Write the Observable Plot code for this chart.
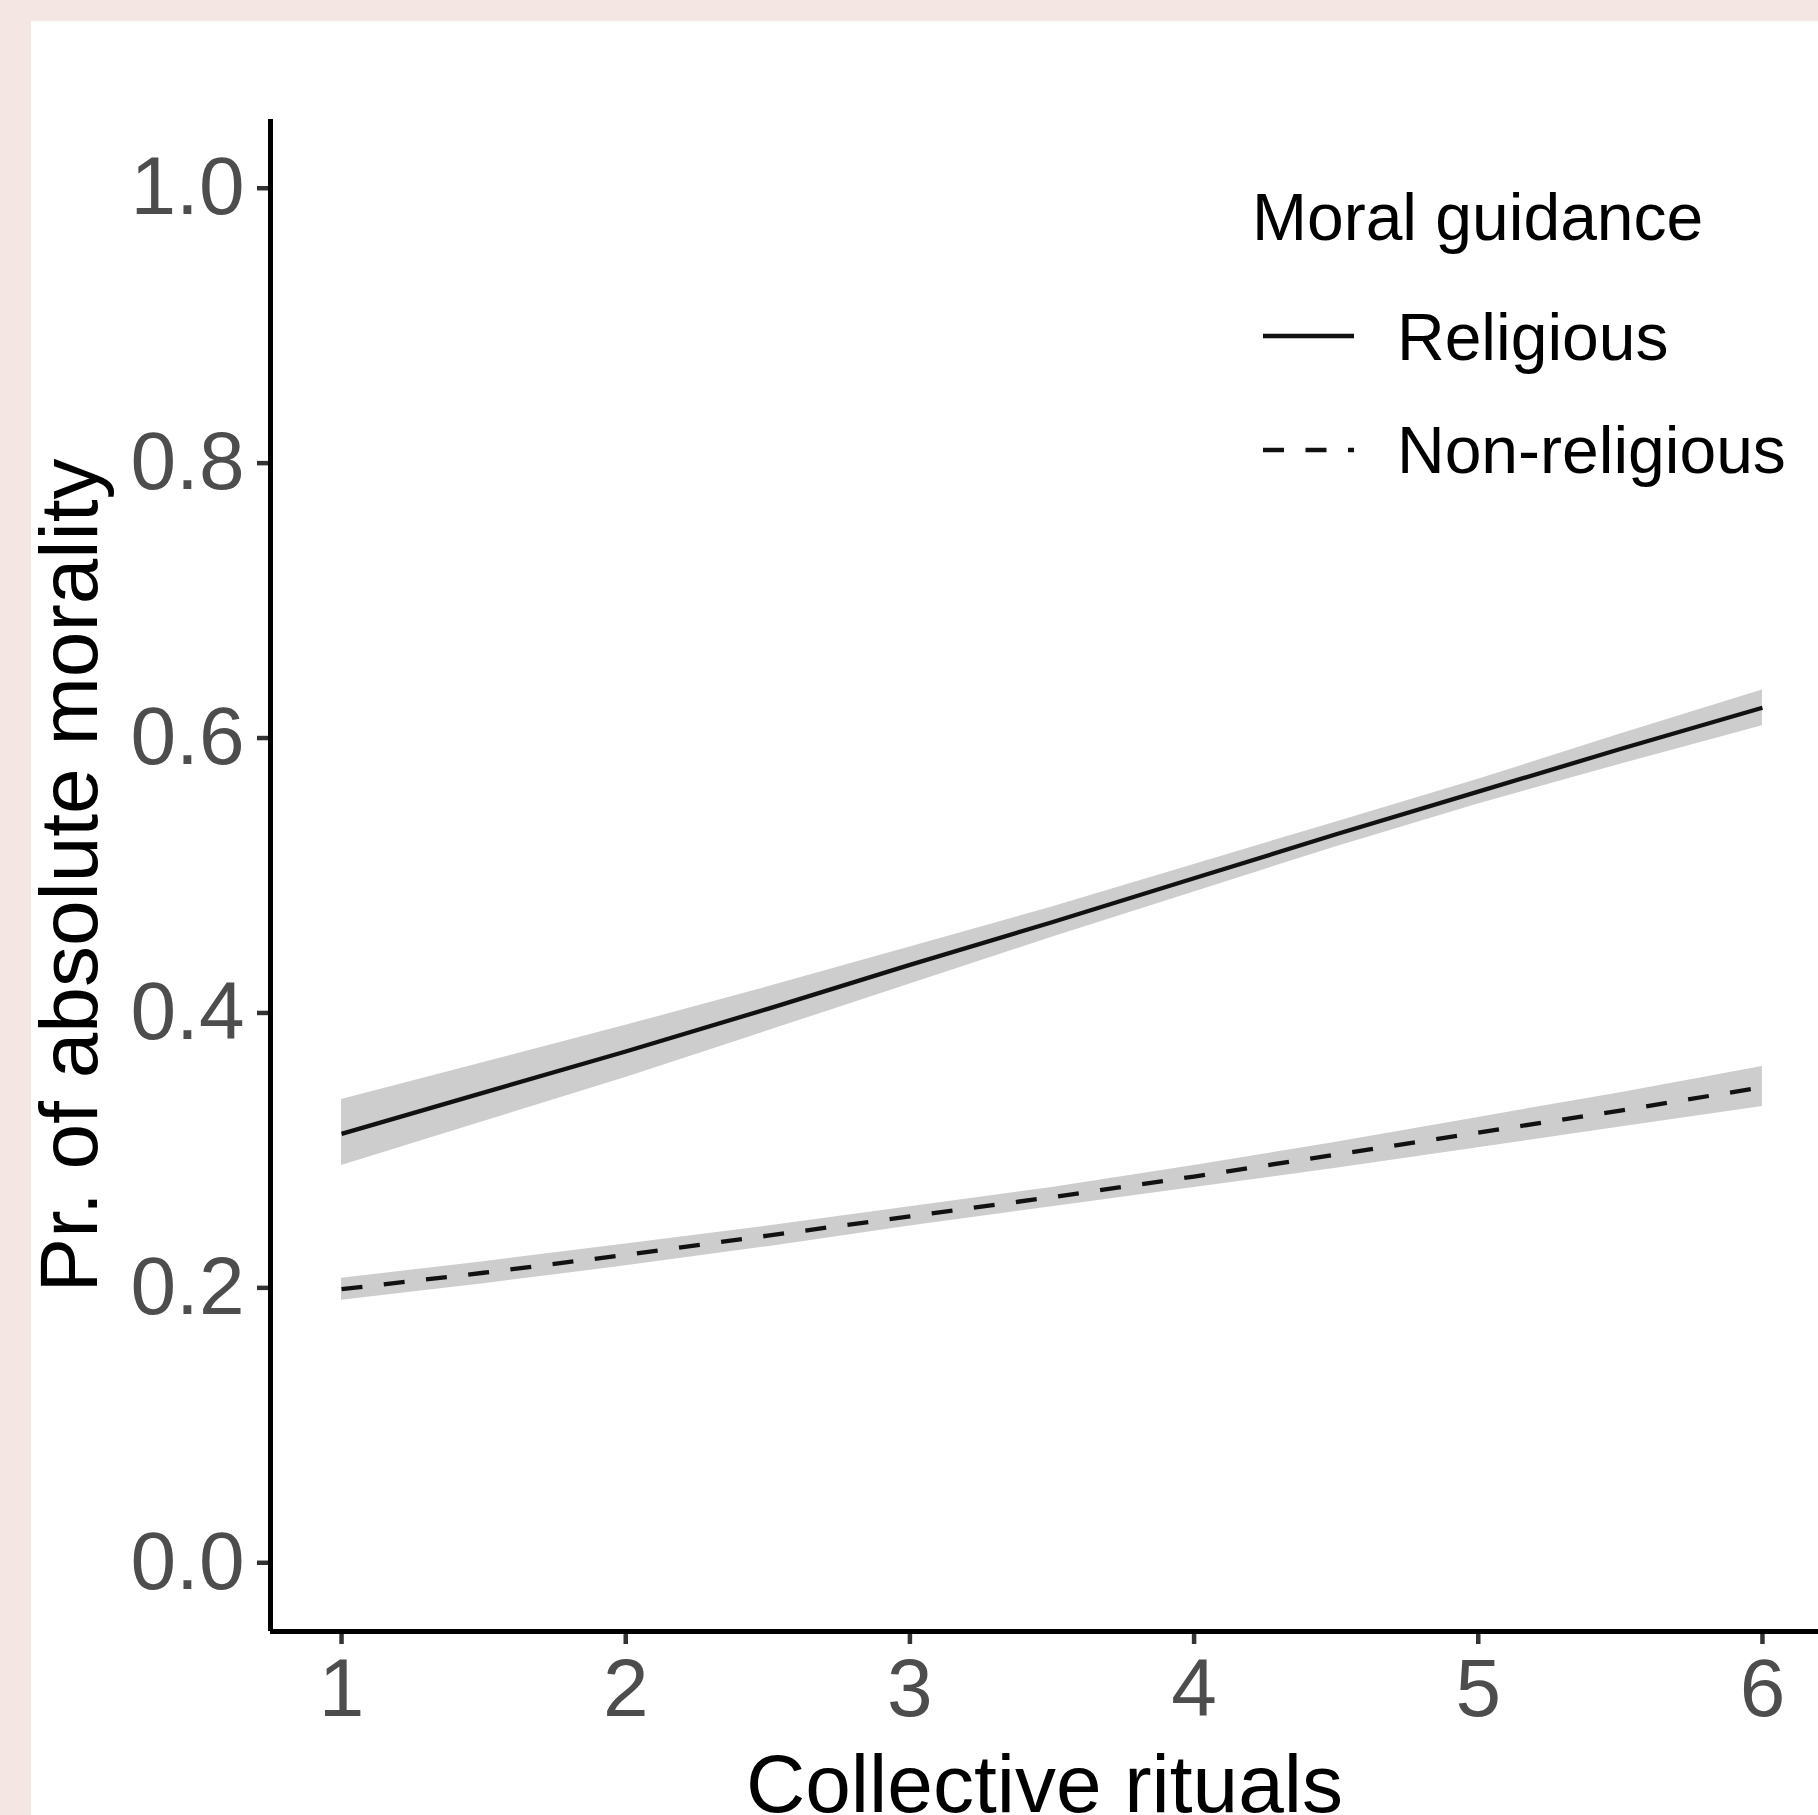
<!DOCTYPE html>
<html>
<head>
<meta charset="utf-8">
<script src="https://cdn.jsdelivr.net/npm/d3@7"></script>
<script src="https://cdn.jsdelivr.net/npm/@observablehq/plot@0.6"></script>
<style>
  html, body { margin: 0; padding: 0; background: #f4e6e3; overflow: hidden; width: 1818px; height: 1815px; }
  #panel { position: absolute; left: 31px; top: 21px; width: 1787px; height: 1794px; background: #ffffff; overflow: hidden; }
  #panel svg { display: block; }
  #legend { position: absolute; left: 0; top: 0; pointer-events: none; }
</style>
</head>
<body>
<div id="panel"></div>
<script>
// ---- Data ----
const rituals = [1, 1.5, 2, 2.5, 3, 3.5, 4, 4.5, 5, 5.5, 6];

const religiousFit   = [0.312, 0.342, 0.372, 0.403, 0.435, 0.466, 0.498, 0.530, 0.561, 0.592, 0.622];
const religiousLow   = [0.289, 0.321, 0.353, 0.387, 0.421, 0.455, 0.488, 0.521, 0.552, 0.581, 0.609];
const religiousHigh  = [0.337, 0.364, 0.391, 0.419, 0.448, 0.477, 0.508, 0.539, 0.570, 0.603, 0.635];

const nonReligiousFit  = [0.199, 0.211, 0.224, 0.238, 0.252, 0.266, 0.281, 0.297, 0.313, 0.329, 0.346];
const nonReligiousLow  = [0.191, 0.203, 0.216, 0.230, 0.245, 0.259, 0.273, 0.287, 0.302, 0.317, 0.332];
const nonReligiousHigh = [0.207, 0.219, 0.232, 0.245, 0.259, 0.273, 0.289, 0.306, 0.324, 0.342, 0.361];

const groups = ["Religious", "Non-religious"];
const xTicks = [1, 2, 3, 4, 5, 6];
const yTicks = [0, 0.2, 0.4, 0.6, 0.8, 1.0];
const xTitle = "Collective rituals";
const yTitle = "Pr. of absolute morality";
const legendTitle = "Moral guidance";

// ---- Build table ----
const rows = [];
rituals.forEach((x, i) => {
  rows.push({group: groups[0], x, fit: religiousFit[i], lo: religiousLow[i], hi: religiousHigh[i]});
});
rituals.forEach((x, i) => {
  rows.push({group: groups[1], x, fit: nonReligiousFit[i], lo: nonReligiousLow[i], hi: nonReligiousHigh[i]});
});
const rel = rows.filter(d => d.group === groups[0]);
const non = rows.filter(d => d.group === groups[1]);

const W = 1787, H = 1794;
const dash = "21 21.5";
const font = "'Liberation Sans', Arial, Helvetica, sans-serif";

const chart = Plot.plot({
  width: W,
  height: H,
  marginLeft: 239,
  marginTop: 98,
  marginBottom: 184,
  marginRight: 0,
  x: {domain: [0.75, 6.25], range: [239, 1802], axis: null},
  y: {domain: [-0.05, 1.05], axis: null},
  style: {fontFamily: font, fontSize: "82px", background: "transparent", overflow: "hidden"},
  marks: [
    Plot.areaY(rows, {x: "x", y1: "lo", y2: "hi", z: "group", fill: "#cdcdcd", curve: "linear"}),
    Plot.line(rel, {x: "x", y: "fit", stroke: "#111111", strokeWidth: 4.3, strokeLinecap: "butt"}),
    Plot.line(non, {x: "x", y: "fit", stroke: "#111111", strokeWidth: 4.3, strokeDasharray: dash, strokeLinecap: "butt"}),
    Plot.axisX(xTicks, {ticks: xTicks, tickSize: 13, tickPadding: 13, fontSize: 82, fill: "#4d4d4d", stroke: "#333333", strokeWidth: 4.5, label: null, tickFormat: d => String(d)}),
    Plot.axisY(yTicks, {ticks: yTicks, tickSize: 13, tickPadding: 13, fontSize: 82, fill: "#4d4d4d", stroke: "#333333", strokeWidth: 4.5, label: null, tickFormat: d => d.toFixed(1)}),
    Plot.ruleX([0.75], {stroke: "#000000", strokeWidth: 5}),
    Plot.ruleY([-0.05], {stroke: "#000000", strokeWidth: 5}),
    Plot.text([xTitle], {frameAnchor: "bottom", textAnchor: "middle", lineAnchor: "bottom", dy: 180, fontSize: 82, fill: "#000000"}),
    Plot.text([yTitle], {frameAnchor: "left", textAnchor: "middle", rotate: -90, lineAnchor: "middle", dx: -200, fontSize: 82, fill: "#000000"})
  ]
});
document.getElementById("panel").appendChild(chart);

// ---- Legend (inside the panel, top right) ----
const legendDashes = [null, dash];
const legend = d3.select("#panel").append("svg")
  .attr("id", "legend")
  .attr("width", W).attr("height", H)
  .style("font-family", font);
legend.append("text")
  .attr("x", 1221).attr("y", 219)
  .attr("font-size", 66).attr("fill", "#000")
  .text(legendTitle);
groups.forEach((g, i) => {
  const ky = 315 + i * 114;
  legend.append("line")
    .attr("x1", 1232).attr("x2", 1323)
    .attr("y1", ky).attr("y2", ky)
    .attr("stroke", "#111").attr("stroke-width", 4.3)
    .attr("stroke-dasharray", legendDashes[i])
    .attr("stroke-linecap", "butt");
  legend.append("text")
    .attr("x", 1366).attr("y", 339 + i * 113)
    .attr("font-size", 66).attr("fill", "#000")
    .text(g);
});
</script>
</body>
</html>
